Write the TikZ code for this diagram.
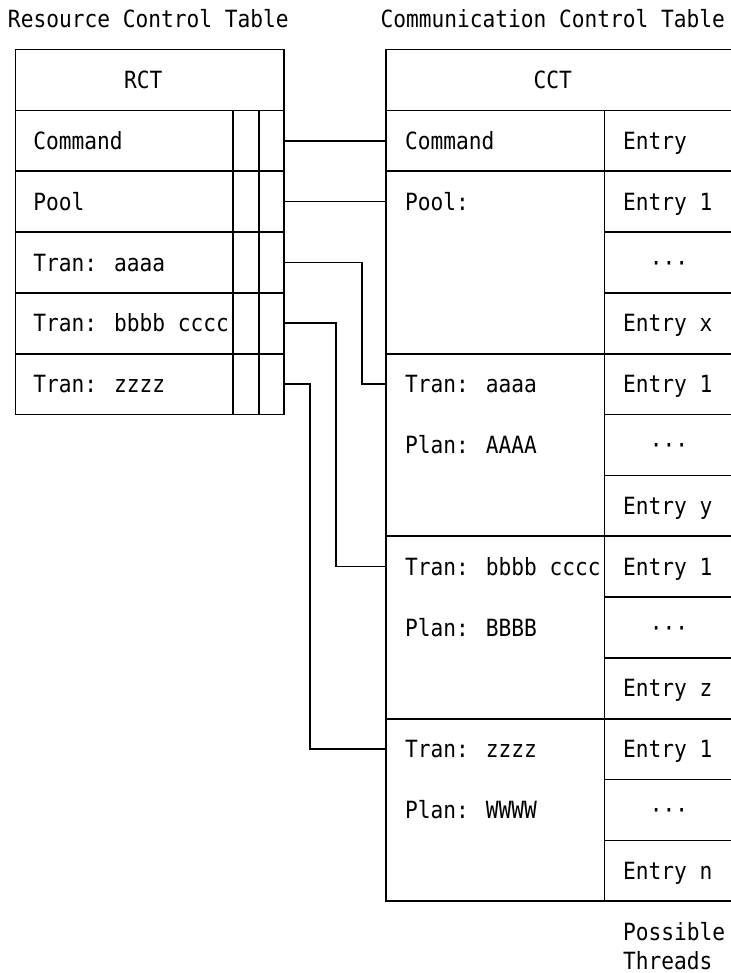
\documentclass[tikz,border=0pt]{standalone}
\usepackage{fontspec}
\newfontfamily\monofont[FakeStretch=0.894]{DejaVu Sans Mono}
\usetikzlibrary{positioning}
\begin{document}
\begin{tikzpicture}[x=1pt,y=-1pt,line width=1.6pt,
  every node/.style={font=\monofont\fontsize{23.7}{28}\selectfont,inner sep=0pt,outer sep=0pt},
  cell/.style={draw,rectangle,anchor=north west,minimum height=60.84pt},
  txt/.style={anchor=west,text height=17.3pt,text depth=0pt}]
  \useasboundingbox (0,0) rectangle (730,973);
  \def\lh{30.42}
  % titles and headers
  \node[txt] (rcttitle) at (8,19.2) {Resource Control Table};
  \node[txt] (ccttitle) at (380.5,19.2) {Communication Control Table};
  \node[cell,minimum width=268.7pt] (rct) at (15.3,49.5) {};
  \node[cell,minimum width=350pt] (cct) at (386,49.5) {};
  \node[txt] (rctlbl) at (124,49.5+\lh) {RCT};
  \node[txt] (cctlbl) at (533.5,49.5+\lh) {CCT};
  % resource rows
  \foreach \t [count=\i] in {Command,Pool,Tran: aaaa,Tran: bbbb cccc,Tran: zzzz}{
    \pgfmathsetmacro\ry{49.5+2*\i*\lh}
    \node[cell,minimum width=217.4pt] (r\i) at (15.3,\ry) {};
    \node[cell,minimum width=26pt] (ra\i) at (r\i.north east) {};
    \node[cell,minimum width=25.3pt] (rb\i) at (ra\i.north east) {};
    \node[txt] (rt\i) at (33.3,\ry+\lh) {\t};
  }
  % communication rows
  \node[cell,minimum width=218.3pt] (ccmd) at (386,49.5+2*\lh) {};
  \node[cell,minimum width=130pt] (ce0) at (ccmd.north east) {};
  \node[txt] (ccmdt) at (405,49.5+3*\lh) {Command};
  \node[txt] (ce0t) at (623,49.5+3*\lh) {Entry};
  \foreach \n [count=\i] in {x,y,z,n}{
    \pgfmathsetmacro\cy{49.5+(6*\i-2)*\lh}
    \node[cell,minimum width=218.3pt,minimum height=182.52pt] (cb\i) at (386,\cy) {};
    \foreach \j in {1,2,3}
      \node[cell,minimum width=130pt] (ce\i\j) at (604.3,\cy+2*\j*\lh-2*\lh) {};
    \node[txt] (ce\i1t) at (623,\cy+\lh) {Entry 1};
    \node[text height=17.3pt,text depth=0pt] (ce\i2t) at (669,\cy+3*\lh) {···};
    \node[txt] (ce\i3t) at (623,\cy+5*\lh) {Entry \n};
  }
  \node[txt] (ct1) at (405,49.5+5*\lh) {Pool:};
  \foreach \a/\b [count=\k from 2] in {Tran: aaaa/Plan: AAAA,Tran: bbbb cccc/Plan: BBBB,Tran: zzzz/Plan: WWWW}{
    \pgfmathsetmacro\cy{49.5+(6*\k-2)*\lh}
    \node[txt] (ct\k) at (405,\cy+\lh) {\a};
    \node[txt] (cp\k) at (405,\cy+3*\lh) {\b};
  }
  % links
  \draw (rb1.east) -- (ccmd.west);
  \draw (rb2.east) -- (rb2.east -| cb1.west);
  \foreach \r/\x/\i in {3/361.7/2,4/336/3,5/310/4}
    \draw (rb\r.east) -- (\x,0 |- rb\r.east) |- (ct\i.west -| cb\i.west);
  \node[txt] (possible) at (623,49.5+29*\lh) {Possible};
  \node[txt] (threads) at (623,49.5+30*\lh-1) {Threads};
\end{tikzpicture}
\end{document}
